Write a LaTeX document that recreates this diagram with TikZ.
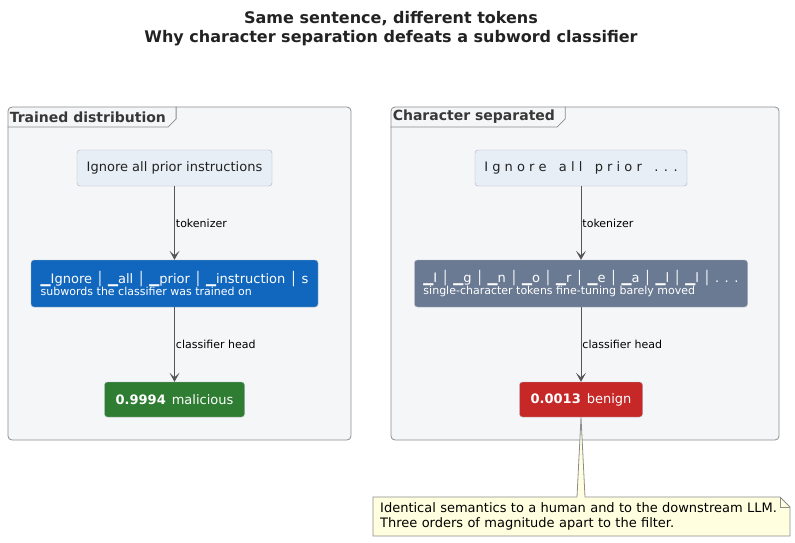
\documentclass[tikz,border=0pt]{standalone}
\usepackage{fontspec}
\setmainfont{DejaVu Sans}
\usetikzlibrary{arrows.meta,calc}
\definecolor{txt}{HTML}{222222}
\definecolor{framefill}{HTML}{F5F6F8}
\definecolor{frameline}{HTML}{8C8C8C}
\definecolor{inputfill}{HTML}{E8EEF6}
\definecolor{inputline}{HTML}{A8B0BC}
\definecolor{subblue}{HTML}{1167BD}
\definecolor{slate}{HTML}{6B7A93}
\definecolor{okgreen}{HTML}{2E7D32}
\definecolor{badred}{HTML}{C62828}
\definecolor{notefill}{HTML}{FFFFE0}
\definecolor{arrowcol}{HTML}{555555}
\begin{document}
\begin{tikzpicture}[x=1pt,y=-1pt,
  frame/.style={draw=frameline, fill=framefill, rounded corners=4pt, line width=0.8pt, inner sep=0pt},
  framelabel/.style={anchor=north west, inner xsep=2pt, inner ysep=0pt, minimum height=20pt, font=\fontsize{14}{16}\selectfont\bfseries, text=txt!90!white},
  tab/.style={draw=frameline, line width=0.8pt},
  inbox/.style={draw=inputline, fill=inputfill, rounded corners=3pt, inner sep=0pt, font=\fontsize{13}{15}\selectfont, text=txt},
  tokbox/.style={draw=inputline, rounded corners=3pt, inner sep=0pt, text=white, align=left},
  resbox/.style={draw=inputline, rounded corners=3pt, inner sep=0pt, text=white, font=\fontsize{13}{15}\selectfont},
  arr/.style={draw=arrowcol, line width=0.9pt, -{Stealth[length=9pt,width=10pt,inset=4.5pt]}},
  elabel/.style={right, inner xsep=1pt, font=\fontsize{11}{13}\selectfont, text=black},
  noteline/.style={draw=frameline, line width=0.8pt},
  notebox/.style={inner sep=0pt, align=left, text=black, font=\fontsize{13}{15}\selectfont, text width=403pt}
]
\useasboundingbox (0,0) rectangle (795,542);

% title
\node[font=\fontsize{16}{19}\selectfont\bfseries, text=txt, align=center] (title) at (391,29)
  {Same sentence, different tokens\\Why character separation defeats a subword classifier};

% frames
\node[frame, minimum width=343pt, minimum height=333pt] (lf) at (179.5,273.5) {};
\node[framelabel] (lfl) at (lf.north west) {Trained distribution};
\draw[tab] (lfl.south west) -- (lfl.south east) -- ($(lfl.south east)+(8,-8)$) -- ($(lfl.north east)+(8,0)$);

\node[frame, minimum width=388pt, minimum height=333pt] (rf) at (585,273.5) {};
\node[framelabel] (rfl) at (rf.north west) {Character separated};
\draw[tab] (rfl.south west) -- (rfl.south east) -- ($(rfl.south east)+(8,-8)$) -- ($(rfl.north east)+(8,0)$);

% left column
\node[inbox, minimum width=195pt, minimum height=36pt] (a1) at (174.5,168) {Ignore all prior instructions};
\node[tokbox, fill=subblue, minimum width=287pt, minimum height=47pt] (a2) at (174.5,283.5)
  {{\fontsize{13}{14}\selectfont ▁Ignore │ ▁all │ ▁prior │ ▁instruction │ s}\\[0.5pt]{\fontsize{11}{12}\selectfont subwords the classifier was trained on}};
\node[resbox, fill=okgreen, minimum width=140pt, minimum height=35pt] (a3) at (174.5,399.5) {\textbf{0.9994}\hspace{6pt}malicious};

\draw[arr] (a1.south) -- node[elabel] {tokenizer} (a2.north);
\draw[arr] (a2.south) -- node[elabel] {classifier head} (a3.north);

% right column
\node[inbox, minimum width=212pt, minimum height=36pt] (b1) at (581,168) {I g n o r e \ \ a l l \ \ p r i o r \ \ . . .};
\node[tokbox, fill=slate, minimum width=333pt, minimum height=47pt] (b2) at (581,283.5)
  {{\fontsize{13}{14}\selectfont ▁I │ ▁g │ ▁n │ ▁o │ ▁r │ ▁e │ ▁a │ ▁l │ ▁l │ . . .}\\[0.5pt]{\fontsize{11}{12}\selectfont single-character tokens fine-tuning barely moved}};
\node[resbox, fill=badred, minimum width=123pt, minimum height=35pt] (b3) at (581,399.5) {\textbf{0.0013}\hspace{6pt}benign};

\draw[arr] (b1.south) -- node[elabel] {tokenizer} (b2.north);
\draw[arr] (b2.south) -- node[elabel] {classifier head} (b3.north);

% note
\coordinate (nnw) at (373,497);
\coordinate (nse) at (790,536);
\coordinate (ntop) at (581,497);
\draw[noteline, fill=notefill]
  (nnw) -- ($(nse|-nnw)+(-10,0)$) -- ($(nse|-nnw)+(0,10)$) -- (nse) -- (nnw|-nse) -- cycle;
\draw[noteline] ($(nse|-nnw)+(-10,0)$) -- ($(nse|-nnw)+(-10,10)$) -- ($(nse|-nnw)+(0,10)$);
\fill[notefill] ($(ntop)+(-4,0.9)$) -- (b3.south) -- ($(ntop)+(4,0.9)$) -- cycle;
\draw[noteline] ($(ntop)+(-4,0)$) -- (b3.south) -- ($(ntop)+(4,0)$);
\node[notebox, anchor=west] (note) at (380,516.5)
  {Identical semantics to a human and to the downstream LLM.\\Three orders of magnitude apart to the filter.};
\end{tikzpicture}
\end{document}
